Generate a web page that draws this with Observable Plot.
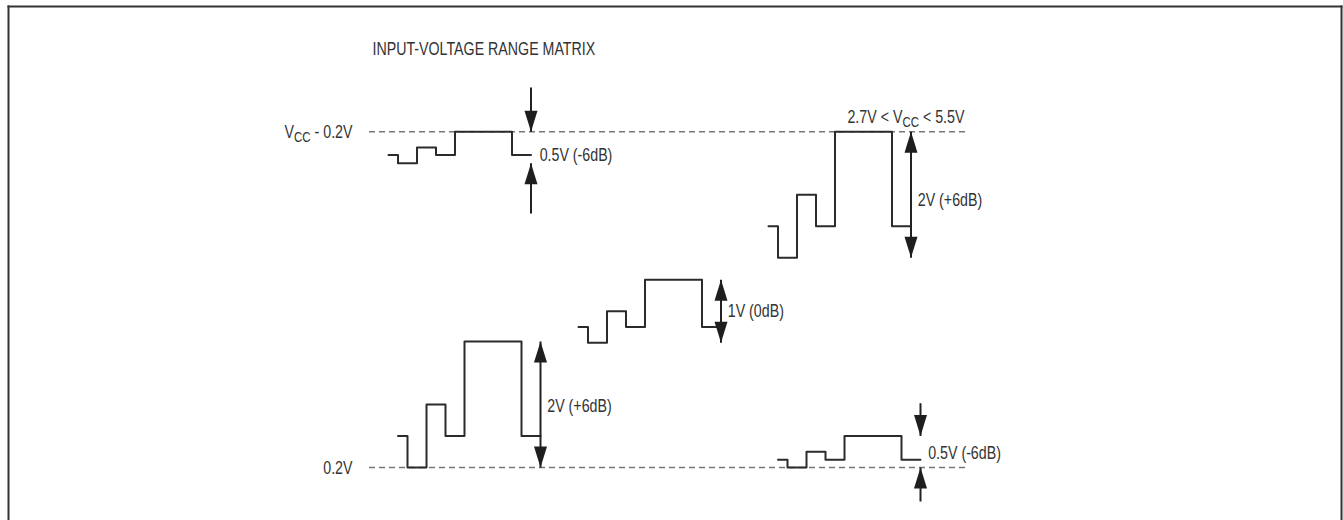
<!DOCTYPE html>
<html>
<head>
<meta charset="utf-8">
<script src="https://cdn.jsdelivr.net/npm/d3@7"></script>
<script src="https://cdn.jsdelivr.net/npm/@observablehq/plot@0.6"></script>
<style>
  html, body { margin: 0; padding: 0; background: #fff; }
  #chart svg { display: block; }
</style>
</head>
<body>
<div id="chart"></div>
<script>
// ---- Data (time in step units, level in volts) ----
const refNames = ["VCC - 0.2V", "0.2V"];
const refLevels = [5.53, 0.2];
const refStart = 19;
const refEnd = 50.5;

const waveIds = ["topLeft", "right", "middle", "bottomLeft", "bottomRight"];
const waveT = {
  topLeft:     [20, 20.5, 21.5, 22.5, 23.5, 26.5, 27.5],
  right:       [40, 40.5, 41.5, 42.5, 43.5, 46.5, 47.5],
  middle:      [30, 30.5, 31.5, 32.5, 33.5, 36.5, 37.5],
  bottomLeft:  [20.5, 21, 22, 23, 24, 27, 28],
  bottomRight: [40.5, 41, 42, 43, 44, 47, 48]
};
const waveV = {
  topLeft:     [5.16, 5.03, 5.28, 5.16, 5.53, 5.16, 5.16],
  right:       [4.03, 3.53, 4.53, 4.03, 5.53, 4.03, 4.03],
  middle:      [2.43, 2.18, 2.68, 2.43, 3.18, 2.43, 2.43],
  bottomLeft:  [0.7, 0.2, 1.2, 0.7, 2.2, 0.7, 0.7],
  bottomRight: [0.325, 0.2, 0.45, 0.325, 0.7, 0.325, 0.325]
};

// arrow shafts: x, from, to
const shaftX    = [27.5, 27.5, 47.5, 37.5, 28, 48, 48];
const shaftFrom = [6.23, 4.23, 3.53, 2.18, 0.2, 1.22, -0.34];
const shaftTo   = [5.53, 5.03, 5.53, 3.18, 2.2, 0.7, 0.2];
// arrow heads: x, tip level, direction
const headX   = [27.5, 27.5, 47.5, 47.5, 37.5, 37.5, 28, 28, 48, 48];
const headY   = [5.53, 5.03, 5.53, 3.53, 3.18, 2.18, 2.2, 0.2, 0.7, 0.2];
const headDir = ["down", "up", "up", "down", "up", "down", "up", "down", "down", "up"];

const labelText = [
  "INPUT-VOLTAGE RANGE MATRIX",
  "0.5V (-6dB)",
  "2.7V < V{CC} < 5.5V",
  "2V (+6dB)",
  "1V (0dB)",
  "2V (+6dB)",
  "0.5V (-6dB)"
];
const labelX = [19.15, 27.95, 44.15, 47.85, 37.85, 28.35, 48.4];
const labelY = [6.84, 5.16, 5.76, 4.45, 2.68, 1.17, 0.42];

const refLabelText = ["V{CC} - 0.2V", "0.2V"];
const refLabelX = [18.1, 18.1];
const refLabelY = [5.52, 0.19];

// ---- Build tables ----
const refs = refLevels.map((v, i) => ({name: refNames[i], v}));
const wavePts = [];
waveIds.forEach(id => waveT[id].forEach((t, i) => wavePts.push({id, t, v: waveV[id][i]})));
const shafts = shaftX.map((x, i) => ({x, y1: shaftFrom[i], y2: shaftTo[i]}));
const heads = headX.map((x, i) => ({x, y: headY[i], dir: headDir[i]}));
const labels = labelText.map((text, i) => ({text, x: labelX[i], y: labelY[i]}));
const refLabels = refLabelText.map((text, i) => ({text, x: refLabelX[i], y: refLabelY[i]}));

const arrowHead = {
  draw(ctx) {
    ctx.moveTo(0, 0);
    ctx.lineTo(6.5, 21);
    ctx.lineTo(-6.5, 21);
    ctx.closePath();
  }
};

const W = 1343, H = 520;
const mL = 8, mR = 2, mT = 6, mB = 0;
const stepPx = 19, voltPx = 63;
const xDomain = [0, (W - mL - mR) / stepPx];
const yBottomPx = 467; // pixel of the 0.2V reference inside the frame
const yDomain = [0.2 - (H - mB - yBottomPx) / voltPx, 0.2 + (yBottomPx - mT) / voltPx];

const font = '"Liberation Sans", Arial, sans-serif';
const squeeze = 0.79;

const chart = Plot.plot({
  width: W,
  height: H,
  marginLeft: mL,
  marginRight: mR,
  marginTop: mT,
  marginBottom: mB,
  x: {domain: xDomain, axis: null},
  y: {domain: yDomain, axis: null},
  style: {fontFamily: font, fontSize: "18px", background: "#fff", color: "#333"},
  marks: [
    Plot.ruleY(refs, {y: "v", x1: refStart, x2: refEnd, stroke: "#777", strokeWidth: 1.5, strokeDasharray: "6,4"}),
    Plot.line(wavePts, {x: "t", y: "v", z: "id", curve: "step-after", stroke: "#2b2b2b", strokeWidth: 2}),
    Plot.link(shafts, {x1: "x", x2: "x", y1: "y1", y2: "y2", stroke: "#222", strokeWidth: 2}),
    Plot.dot(heads, {x: "x", y: "y", symbol: arrowHead, rotate: d => d.dir === "up" ? 0 : 180, fill: "#1e1e1e", stroke: "none"}),
    Plot.text(labels, {x: "x", y: "y", text: "text", textAnchor: "start", fill: "#333", fontSize: 18}),
    Plot.text(refLabels, {x: "x", y: "y", text: "text", textAnchor: "end", fill: "#333", fontSize: 18}),
    Plot.frame({anchor: "top", stroke: "#333", strokeWidth: 2}),
    Plot.frame({anchor: "left", stroke: "#333", strokeWidth: 2}),
    Plot.frame({anchor: "right", stroke: "#333", strokeWidth: 2})
  ]
});

document.getElementById("chart").appendChild(chart);

// subscripts written as {..}; then condense glyphs horizontally like the original narrow face
const ns = "http://www.w3.org/2000/svg";
const svgRect = chart.getBoundingClientRect();
chart.querySelectorAll("text").forEach(t => {
  const s = t.textContent;
  if (s.includes("{")) {
    const parts = s.split(/\{([^}]*)\}/);
    while (t.firstChild) t.removeChild(t.firstChild);
    parts.forEach((p, i) => {
      if (!p) return;
      const ts = document.createElementNS(ns, "tspan");
      ts.textContent = p;
      if (i % 2 === 1) {
        ts.setAttribute("font-size", "14.5");
        ts.setAttribute("dy", "4");
      } else if (i > 0) {
        ts.setAttribute("dy", "-4");
      }
      t.appendChild(ts);
    });
  }
  const r = t.getBoundingClientRect();
  const anchor = getComputedStyle(t).textAnchor;
  const ax = (anchor === "end" ? r.right : r.left) - svgRect.left;
  const g = document.createElementNS(ns, "g");
  g.setAttribute("transform", `translate(${ax},0) scale(${squeeze},1) translate(${-ax},0)`);
  t.parentNode.insertBefore(g, t);
  g.appendChild(t);
});
</script>
</body>
</html>
